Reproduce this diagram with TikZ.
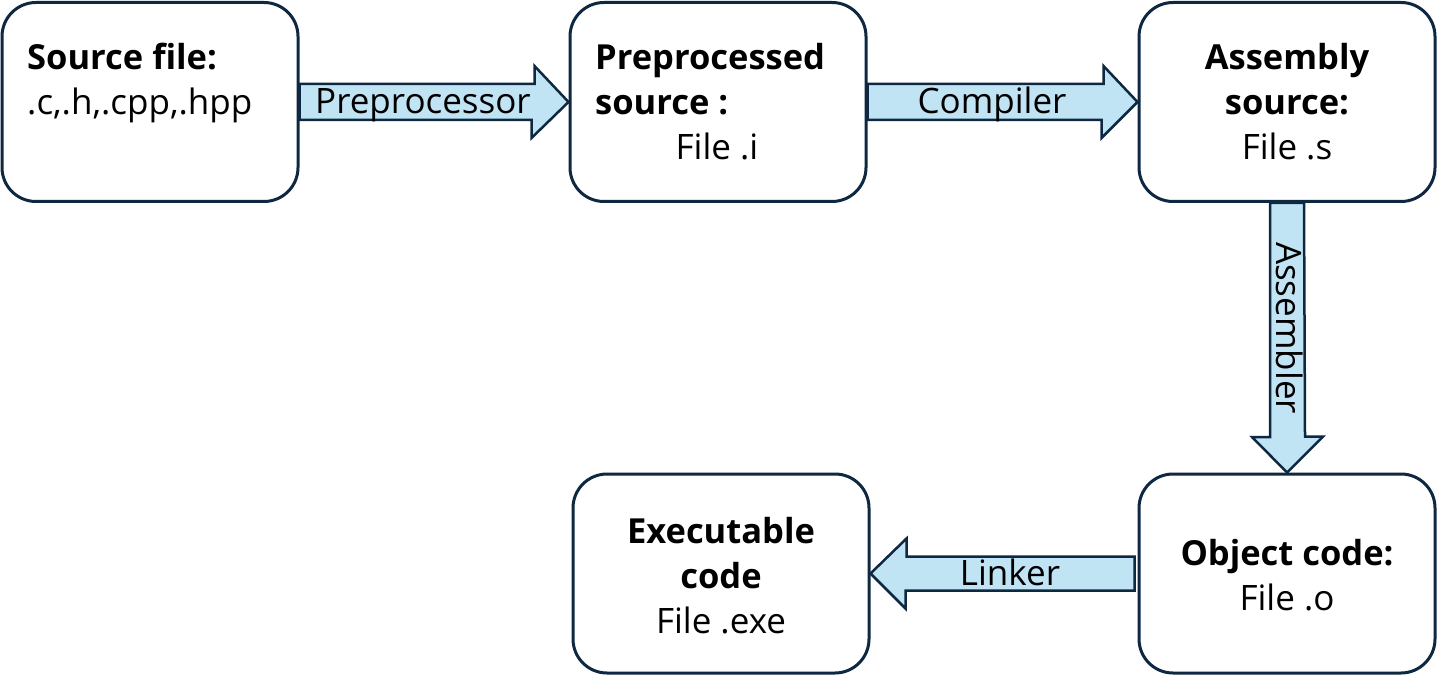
\documentclass[tikz,border=0pt]{standalone}
\usepackage{fontspec}
\setmainfont{Open Sans}
\usetikzlibrary{calc}
\definecolor{navy}{HTML}{0E2841}
\definecolor{arrowfill}{HTML}{C1E4F5}
\begin{document}
\begin{tikzpicture}[x=1pt,y=-1pt,
  box/.style={draw=navy, line width=3pt, rounded corners=34pt, fill=white,
    minimum width=296pt, minimum height=199pt, inner sep=0pt},
  flow/.style={draw=navy, line width=2.5pt, fill=arrowfill, line join=miter},
  head/.style={font=\fontsize{34.5}{40}\selectfont\bfseries, text=black, inner sep=0pt},
  body/.style={font=\fontsize{35}{40}\selectfont, text=black, inner sep=0pt},
  lab/.style={font=\fontsize{35}{40}\selectfont, text=black, inner sep=0pt}]
\useasboundingbox (0,0) rectangle (1439,676);
% boxes
\node[box] (src) at (150,102) {};
\node[box] (pre) at (718,102) {};
\node[box] (asm) at (1287,102) {};
\node[box] (obj) at (1287,573.5) {};
\node[box] (exe) at (721,573.5) {};
% texts
\node[head, anchor=base west] (t1) at (27,70) {Source file:};
\node[body, anchor=base west] (t2) at (27,115) {.c,.h,.cpp,.hpp};
\node[head, anchor=base west] (t3) at (595,70) {Preprocessed};
\node[head, anchor=base west] (t4) at (595,115) {source :};
\node[body, anchor=base] (t5) at (717,160) {File .i};
\node[head, anchor=base] (t6) at (1287,70) {Assembly};
\node[head, anchor=base] (t7) at (1287,115) {source:};
\node[body, anchor=base] (t8) at (1287,160) {File .s};
\node[head, anchor=base] (t9) at (1287,565) {Object code:};
\node[body, anchor=base] (t10) at (1287,610) {File .o};
\node[head, anchor=base] (t11) at (721,543) {Executable};
\node[head, anchor=base] (t12) at (721,588) {code};
\node[body, anchor=base] (t13) at (721,633) {File .exe};
% arrows
\draw[flow] ($(src.east)+(0,-18)$) -- ++(235,0) -- ++(0,-18) -- (pre.west) -- ++(-37,36) -- ++(0,-18) -- ($(src.east)+(0,18)$) -- cycle;
\draw[flow] ($(pre.east)+(0,-18)$) -- ++(236,0) -- ++(0,-18) -- (asm.west) -- ++(-36,36) -- ++(0,-18) -- ($(pre.east)+(0,18)$) -- cycle;
\draw[flow] ($(asm.south)+(-17,0)$) -- ++(0,234) -- ++(-18,0) -- (obj.north) -- ++(36,-36) -- ++(-18,0) -- ($(asm.south)+(17,0)$) -- cycle;
\draw[flow] ($(obj.west)+(-3,-17)$) -- ++(-228,0) -- ++(0,-18) -- (exe.east) -- ++(35,35) -- ++(0,-18) -- ($(obj.west)+(-3,17)$) -- cycle;
% arrow labels
\node[lab, anchor=base] (l1) at (423,114) {Preprocessor};
\node[lab, anchor=base] (l2) at (992,114) {Compiler};
\node[lab, rotate=-90, anchor=base] (l3) at (1276,328) {Assembler};
\node[lab, anchor=base] (l4) at (1010,585) {Linker};
\end{tikzpicture}
\end{document}
